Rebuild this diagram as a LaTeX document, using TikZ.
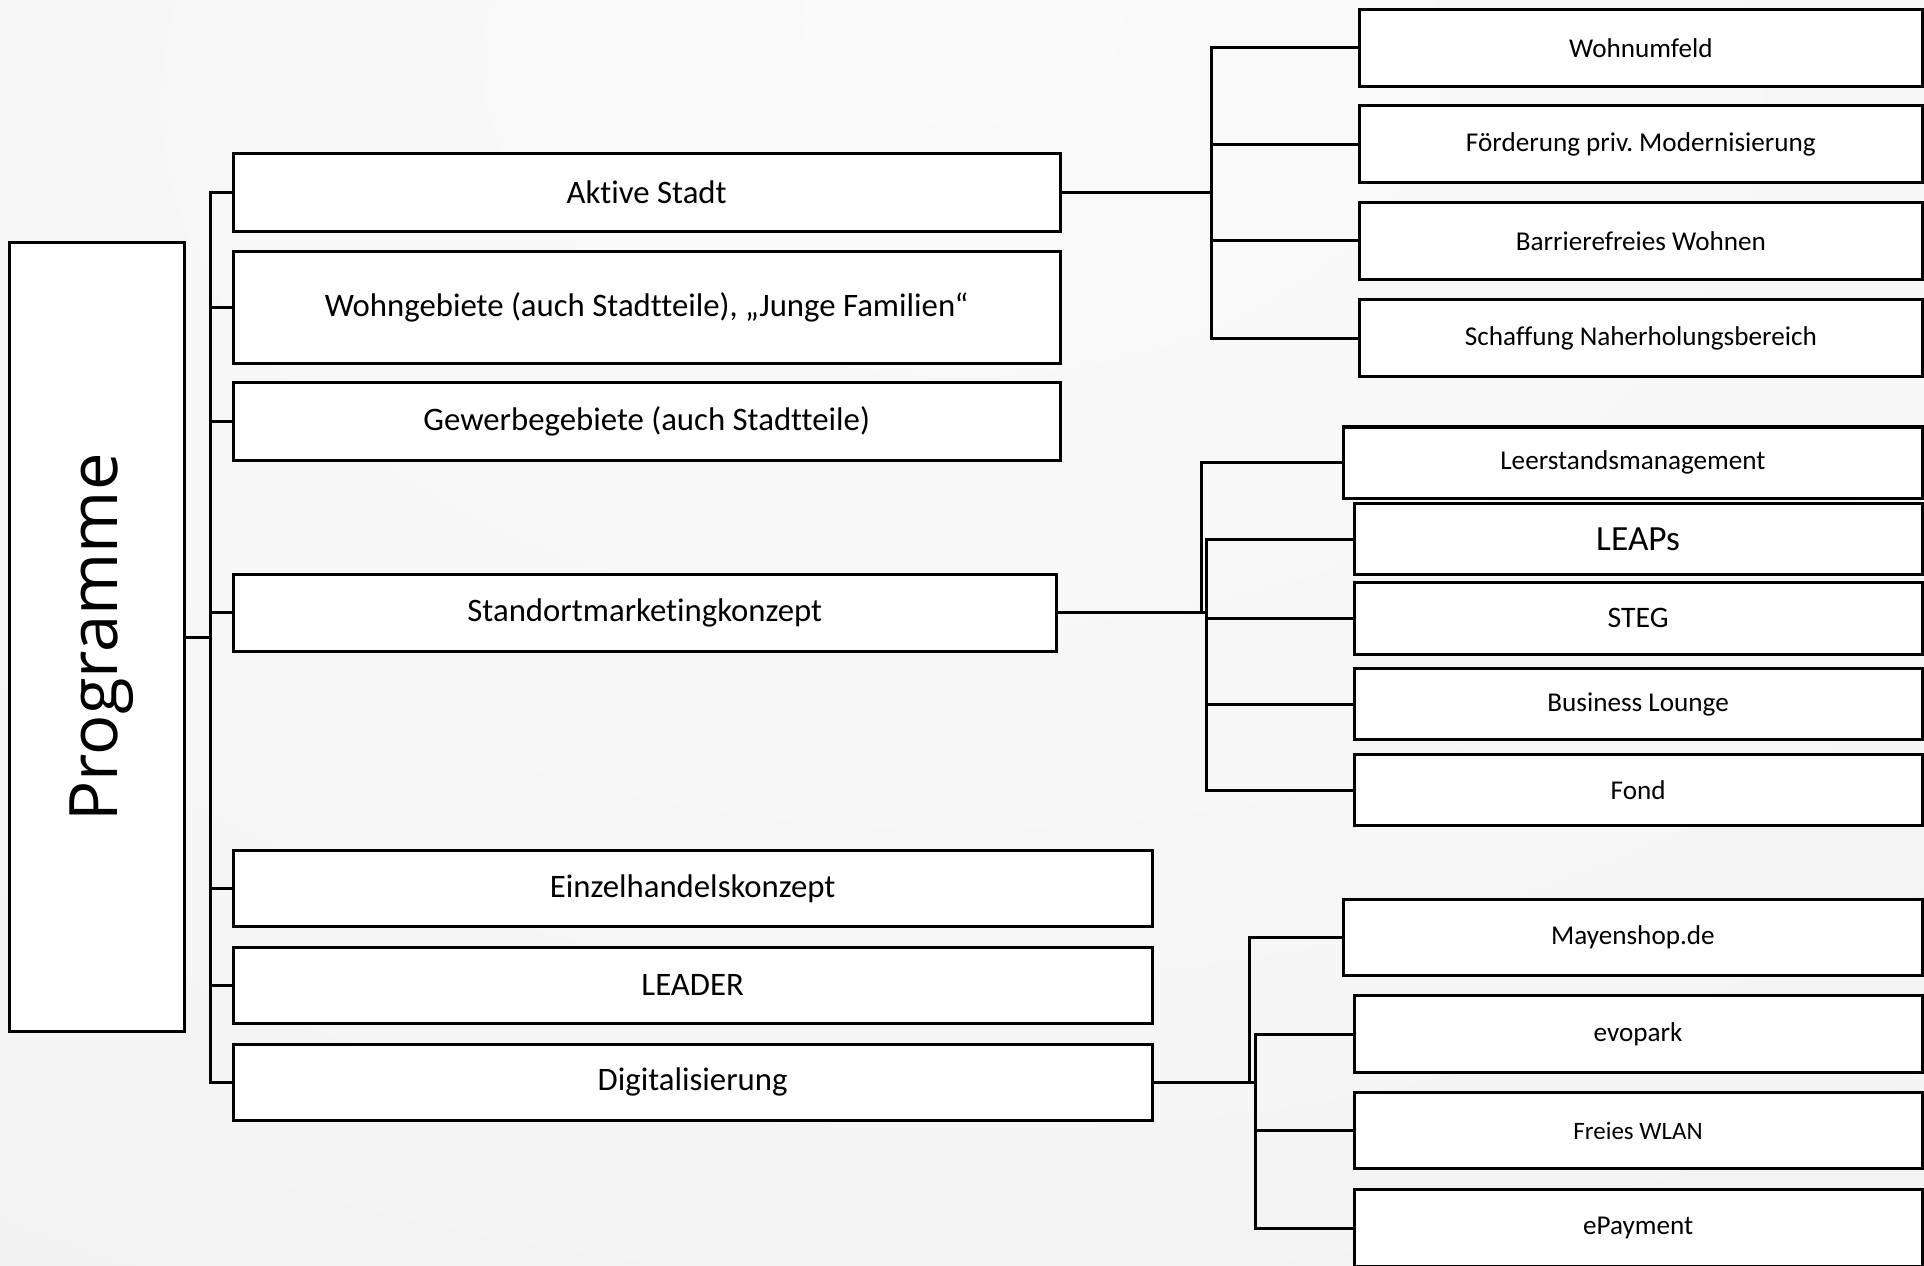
\documentclass[tikz,border=0pt]{standalone}
\usepackage{fontspec}
\setmainfont[Ligatures=NoCommon]{Carlito}
\newfontfamily\progfont{Open Sans}
\usepackage{xcolor}
\usepackage{tikz}
\frenchspacing

\definecolor{bgA}{HTML}{FAFAFA}
\definecolor{bgB}{HTML}{F7F7F7}
\definecolor{bgC}{HTML}{F3F3F3}
\definecolor{bgD}{HTML}{EFEFEF}
\definecolor{bgE}{HTML}{E2E2E2}
\definecolor{bgF}{HTML}{DEDEDE}
\pgfdeclareradialshading{slidebg}{\pgfpoint{0bp}{25bp}}{color(0bp)=(bgA); color(25bp)=(bgB); color(45bp)=(bgC); color(56bp)=(bgD); color(72bp)=(bgE); color(90bp)=(bgF); color(130bp)=(bgF)}

\tikzset{
  boxbase/.style={draw=black, fill=white, line width=1.4pt, inner sep=0pt, align=center},
  progbox/.style={boxbase, minimum width=2.84cm, minimum height=12.86cm, font=\progfont\fontsize{31}{36}\selectfont},
  mainbox/.style={boxbase, minimum width=13.48cm, minimum height=1.26cm, font=\fontsize{15.2}{18}\selectfont},
  longbox/.style={mainbox, minimum width=14.98cm, minimum height=1.24cm},
  subbox/.style={boxbase, minimum width=9.26cm, minimum height=1.16cm, font=\fontsize{12.6}{15}\selectfont},
  widebox/.style={subbox, minimum width=9.43cm},
  topbox/.style={subbox, minimum width=9.17cm, minimum height=1.26cm},
  link/.style={line width=1.4pt, line cap=rect}
}

\begin{document}
\begin{tikzpicture}
  \useasboundingbox (0,0) rectangle (31.36,-20.62);
  \shade[shading=slidebg] (0,0) rectangle (31.36,-20.62);

  \node[progbox] (prog) at (1.58,-10.39) {\hspace*{0.16cm}\rotatebox{90}{Programme}};

  \node[mainbox] (akt) at (10.54,-3.14) {Aktive Stadt};
  \node[mainbox, minimum height=1.82cm] (wohn) at (10.54,-5.01) {Wohngebiete (auch Stadtteile), „Junge Familien“};
  \node[mainbox] (gew) at (10.54,-6.87) {Gewerbegebiete (auch Stadtteile)};
  \node[mainbox, minimum width=13.42cm] (stand) at (10.51,-9.99) {Standortmarketingkonzept};
  \node[longbox] (einz) at (11.29,-14.48) {Einzelhandelskonzept};
  \node[longbox] (leader) at (11.29,-16.06) {LEADER};
  \node[longbox] (digi) at (11.29,-17.64) {Digitalisierung};

  \node[topbox] (umfeld) at (26.745,-0.78) {Wohnumfeld};
  \node[topbox] (modern) at (26.745,-2.352) {Förderung priv. Modernisierung};
  \node[topbox] (barr) at (26.745,-3.924) {Barrierefreies Wohnen};
  \node[topbox] (naherh) at (26.745,-5.51) {Schaffung Naherholungsbereich};

  \node[widebox] (leer) at (26.615,-7.54) {Leerstandsmanagement};
  \node[subbox, font=\fontsize{16.4}{19}\selectfont] (leaps) at (26.70,-8.79) {LEAPs};
  \node[subbox, font=\fontsize{13.8}{16}\selectfont] (steg) at (26.70,-10.08) {STEG};
  \node[subbox] (lounge) at (26.70,-11.48) {Business Lounge};
  \node[subbox] (fond) at (26.70,-12.88) {Fond};

  \node[widebox, minimum height=1.25cm] (mayen) at (26.615,-15.28) {Mayenshop.de};
  \node[subbox, minimum height=1.25cm] (evo) at (26.70,-16.854) {evopark};
  \node[subbox, minimum height=1.25cm, font=\fontsize{11.6}{14}\selectfont] (wlan) at (26.70,-18.428) {Freies WLAN};
  \node[subbox, minimum height=1.25cm] (epay) at (26.70,-20.02) {ePayment};

  \coordinate (bus) at ([xshift=0.41cm]prog.east);
  \coordinate (j1) at ([xshift=2.44cm]akt.east);
  \coordinate (j2a) at ([xshift=2.34cm]stand.east);
  \coordinate (j2b) at ([xshift=2.42cm]stand.east);
  \coordinate (j3a) at ([xshift=1.56cm]digi.east);
  \coordinate (j3b) at ([xshift=1.66cm]digi.east);

  \draw[link] (prog.east) -- (bus);
  \foreach \n in {akt,wohn,gew,stand,einz,leader,digi}
    \draw[link] (bus) |- (\n.west);

  \draw[link] (akt.east) -- (j1);
  \foreach \n in {umfeld,modern,barr,naherh}
    \draw[link] (j1) |- (\n.west);

  \draw[link] (stand.east) -- (j2b);
  \draw[link] (j2a) |- (leer.west);
  \foreach \n in {leaps,steg,lounge,fond}
    \draw[link] (j2b) |- (\n.west);

  \draw[link] (digi.east) -- (j3b);
  \draw[link] (j3a) |- (mayen.west);
  \foreach \n in {evo,wlan,epay}
    \draw[link] (j3b) |- (\n.west);
\end{tikzpicture}
\end{document}
